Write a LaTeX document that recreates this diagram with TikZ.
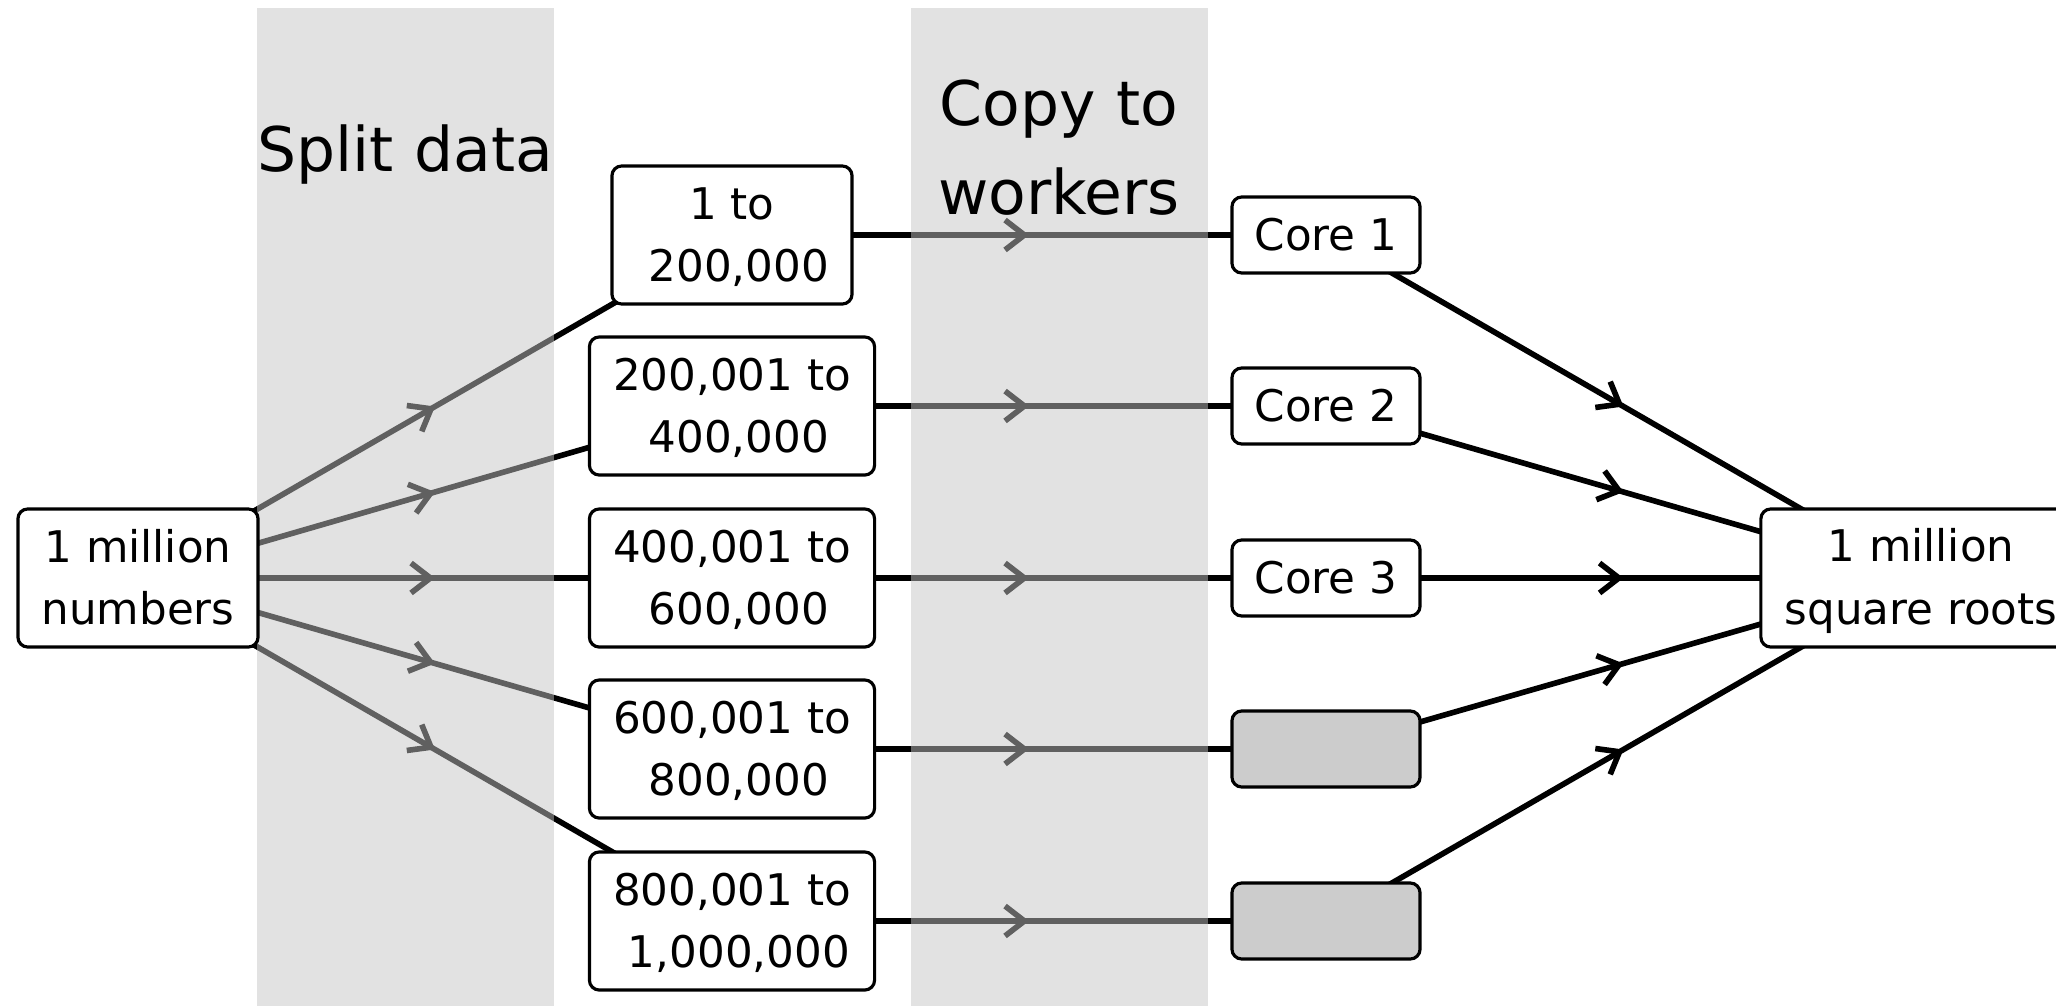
\documentclass[tikz,border=0pt]{standalone}
\usepackage{fontspec}
\setmainfont{DejaVu Sans}
\usetikzlibrary{arrows.meta,decorations.markings}
\pgfdeclarelayer{edges}
\pgfdeclarelayer{bands}
\pgfsetlayers{edges,bands,main}

% two label lines with fixed ascent and descent, so every box sets its
% baselines at the same height
\newcommand{\boxlines}[2]{\rule{0pt}{11pt}#1\\#2\rule[-2.2pt]{0pt}{2.2pt}}
\newcommand{\lead}{\hspace*{0.318em}}

\begin{document}
\begin{tikzpicture}[x=0.01cm,y=-0.01cm,
  box/.style={draw, line width=0.9pt, rounded corners=2.8pt, fill=white,
    align=center, inner sep=0pt, font=\fontsize{12.4}{17.9}\selectfont},
  databox/.style={box, minimum width=2.85cm, minimum height=1.38cm},
  corebox/.style={box, minimum width=1.88cm, minimum height=0.76cm},
  idlebox/.style={corebox, fill=black!20},
  flow/.style={line width=1.6pt, postaction={decorate},
    decoration={markings, mark=at position 0.5 with
      {\arrow{Straight Barb[length=5.5pt,width=8.5pt]}}}},
  band/.style={fill=black!23, fill opacity=0.49},
  heading/.style={font=\fontsize{17.5}{25.3}\selectfont, align=center,
    inner sep=0pt, text width=4cm}
]
\useasboundingbox (0,0) rectangle (2056,1006);

% input and output
\node[box, minimum width=2.40cm, minimum height=1.38cm] (all) at (138,578)
  {\boxlines{1 million}{numbers}};
\node[box, minimum width=3.20cm, minimum height=1.38cm] (roots) at (1921,578)
  {\boxlines{1 million}{square roots}};

% chunks of the input
\node[databox, minimum width=2.40cm] (r1) at (732,235)
  {\boxlines{1 to}{\lead 200,000}};
\node[databox] (r2) at (732,406) {\boxlines{200,001 to}{\lead 400,000}};
\node[databox] (r3) at (732,578) {\boxlines{400,001 to}{\lead 600,000}};
\node[databox] (r4) at (732,749) {\boxlines{600,001 to}{\lead 800,000}};
\node[databox] (r5) at (732,921) {\boxlines{800,001 to}{\lead 1,000,000}};

% workers
\node[corebox] (c1) at (1326,235) {Core 1};
\node[corebox] (c2) at (1326,406) {Core 2};
\node[corebox] (c3) at (1326,578) {Core 3};
\node[idlebox] (c4) at (1326,749) {};
\node[idlebox] (c5) at (1326,921) {};

% stage headings
\node[heading, anchor=base] (hsplit) at (405,172) {Split data};
\node[heading, anchor=base] (hcopy) at (1059,126) {Copy to\\workers};

% shaded stages, laid over the connectors
\begin{pgfonlayer}{bands}
  \fill[band] (257,8) rectangle (554,1010);
  \fill[band] (911,8) rectangle (1208,1010);
\end{pgfonlayer}

% connectors, centre to centre, hidden under the boxes
\begin{pgfonlayer}{edges}
  \foreach \i in {1,...,5} {
    \draw[flow] (all.center) -- (r\i.center);
    \draw[flow] (r\i.center) -- (c\i.center);
    \draw[flow] (c\i.center) -- (roots.center);
  }
\end{pgfonlayer}
\end{tikzpicture}
\end{document}
